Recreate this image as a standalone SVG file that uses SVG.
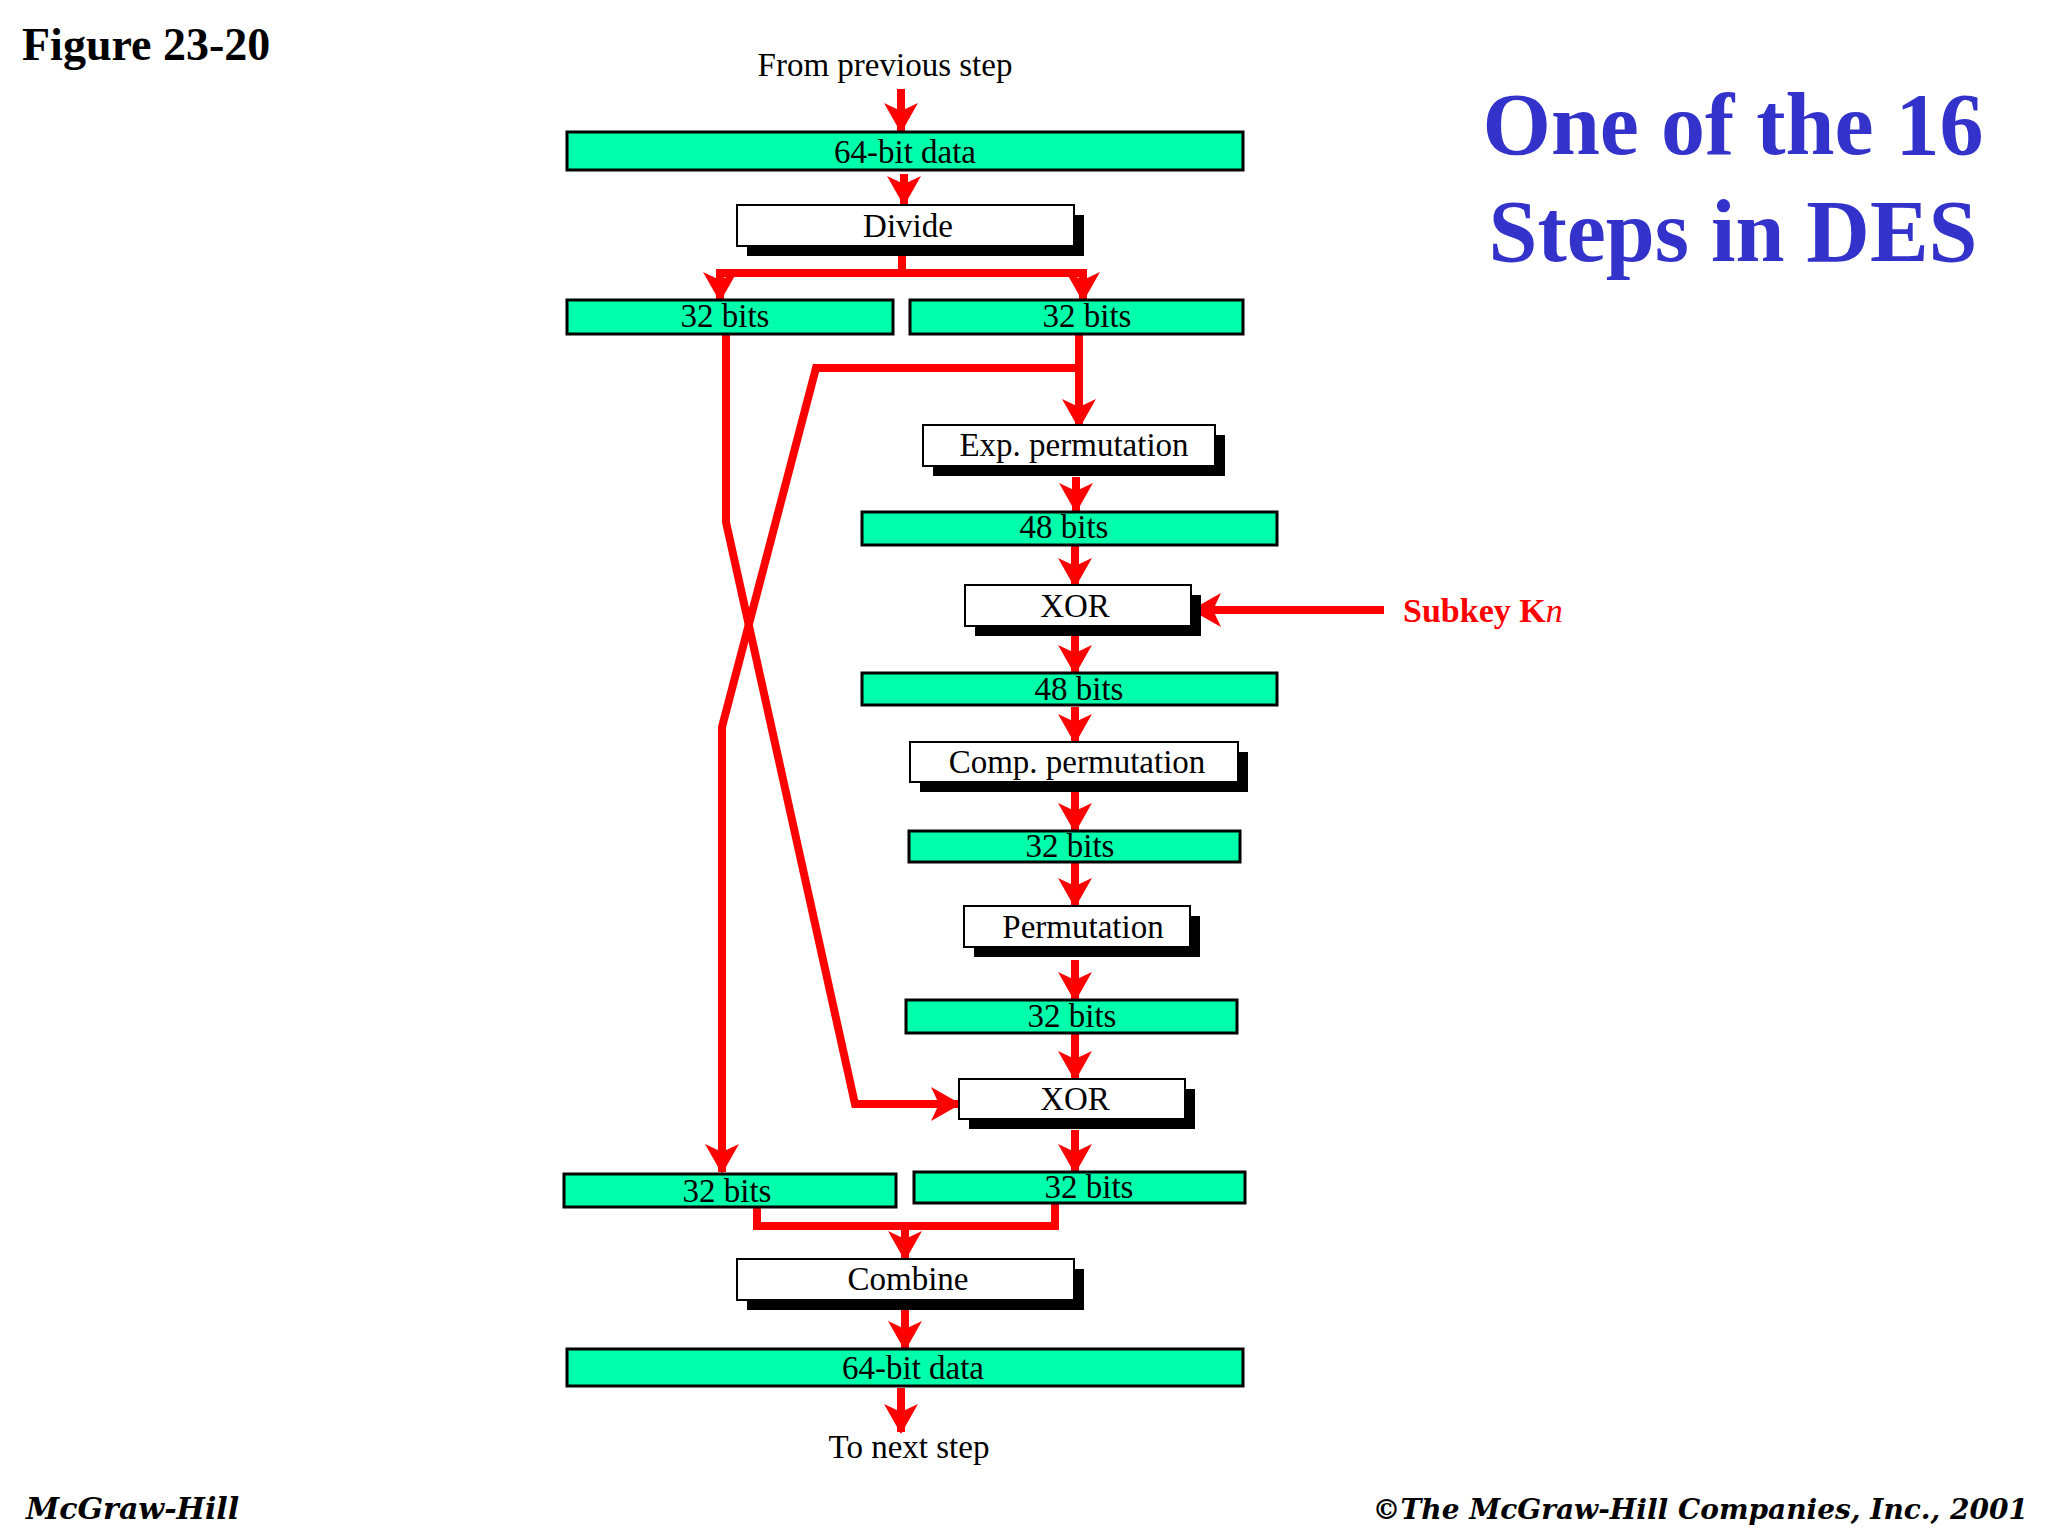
<svg xmlns="http://www.w3.org/2000/svg" width="2048" height="1536" viewBox="0 0 2048 1536">
<defs>
<marker id="ah" markerUnits="userSpaceOnUse" markerWidth="30" markerHeight="34" viewBox="0 0 30 34" refX="28" refY="17" orient="auto">
<path d="M0,0 L30,17 L0,34 L8,17 z" fill="#ff0000"/>
</marker>
<style>
.g{fill:#00ffaa;stroke:#000;stroke-width:3}
.w{fill:#fff;stroke:#000;stroke-width:2}
.s{fill:#000}
.t{font-family:"Liberation Serif",serif;font-size:33px;text-anchor:middle;fill:#000}
.c{fill:none;stroke:#ff0000;stroke-width:8}
.a{fill:none;stroke:#ff0000;stroke-width:8;marker-end:url(#ah)}
</style>
</defs>
<rect width="2048" height="1536" fill="#fff"/>
<text x="22" y="60" font-family="Liberation Serif,serif" font-weight="bold" font-size="46">Figure 23-20</text>
<g font-family="Liberation Serif,serif" font-weight="bold" font-size="88" fill="#3333cc" text-anchor="middle">
<text x="1733" y="154">One of the 16</text>
<text x="1733" y="261">Steps in DES</text>
</g>
<text class="t" x="885" y="76">From previous step</text>
<text class="t" x="909" y="1458">To next step</text>
<g id="connectors">
<path class="a" d="M901,89 V131"/>
<path class="a" d="M904,174 V204"/>
<path class="c" d="M902,254 V273"/>
<path class="c" d="M720,273 H1083"/>
<path class="a" d="M720,269 V300"/>
<path class="a" d="M1083,269 V300"/>
<path class="a" d="M1079,334 V427"/>
<path class="c" d="M1079,368 H816 L722,727 V1140"/>
<path class="a" d="M722,1120 V1172"/>
<path class="a" d="M726,334 V522 L855,1104 H959"/>
<path class="a" d="M1076,477 V511"/>
<path class="a" d="M1075,546 V586"/>
<path class="a" d="M1384,610 H1193"/>
<path class="a" d="M1075,636 V673"/>
<path class="a" d="M1075,707 V742"/>
<path class="a" d="M1075,792 V831"/>
<path class="a" d="M1075,863 V906"/>
<path class="a" d="M1075,960 V1000"/>
<path class="a" d="M1075,1034 V1079"/>
<path class="a" d="M1075,1130 V1172"/>
<path class="c" d="M757,1207 V1226 H1055 V1203"/>
<path class="a" d="M905,1222 V1259"/>
<path class="a" d="M905,1310 V1349"/>
<path class="a" d="M901,1388 V1432"/>
</g>
<g id="data64a"><rect class="g" x="567" y="132" width="676" height="38"/><text class="t" x="905" y="163">64-bit data</text></g>
<g id="divide"><rect class="s" x="747" y="215" width="337" height="41"/><rect class="w" x="737" y="205" width="337" height="41"/><text class="t" x="908" y="237">Divide</text></g>
<g id="l32a"><rect class="g" x="567" y="300" width="326" height="34"/><text class="t" x="725" y="327">32 bits</text></g>
<g id="r32a"><rect class="g" x="910" y="300" width="333" height="34"/><text class="t" x="1087" y="327">32 bits</text></g>
<g id="exp"><rect class="s" x="933" y="435" width="292" height="41"/><rect class="w" x="923" y="425" width="292" height="41"/><text class="t" x="1074" y="456">Exp. permutation</text></g>
<g id="b48a"><rect class="g" x="862" y="512" width="415" height="33"/><text class="t" x="1064" y="538">48 bits</text></g>
<g id="xor1"><rect class="s" x="975" y="595" width="226" height="41"/><rect class="w" x="965" y="585" width="226" height="41"/><text class="t" x="1075" y="617">XOR</text></g>
<text x="1403" y="622" font-family="Liberation Serif,serif" font-weight="bold" font-size="34" fill="#ff0000">Subkey K<tspan font-style="italic" font-weight="normal">n</tspan></text>
<g id="b48b"><rect class="g" x="862" y="673" width="415" height="32"/><text class="t" x="1079" y="700">48 bits</text></g>
<g id="comp"><rect class="s" x="920" y="752" width="328" height="40"/><rect class="w" x="910" y="742" width="328" height="40"/><text class="t" x="1077" y="773">Comp. permutation</text></g>
<g id="b32c"><rect class="g" x="909" y="831" width="331" height="31"/><text class="t" x="1070" y="857">32 bits</text></g>
<g id="perm"><rect class="s" x="974" y="916" width="226" height="41"/><rect class="w" x="964" y="906" width="226" height="41"/><text class="t" x="1083" y="938">Permutation</text></g>
<g id="b32d"><rect class="g" x="906" y="1000" width="331" height="33"/><text class="t" x="1072" y="1027">32 bits</text></g>
<g id="xor2"><rect class="s" x="969" y="1089" width="226" height="40"/><rect class="w" x="959" y="1079" width="226" height="40"/><text class="t" x="1075" y="1110">XOR</text></g>
<g id="r32b"><rect class="g" x="914" y="1172" width="331" height="31"/><text class="t" x="1089" y="1198">32 bits</text></g>
<g id="l32b"><rect class="g" x="564" y="1174" width="332" height="33"/><text class="t" x="727" y="1202">32 bits</text></g>
<g id="combine"><rect class="s" x="747" y="1269" width="337" height="41"/><rect class="w" x="737" y="1259" width="337" height="41"/><text class="t" x="908" y="1290">Combine</text></g>
<g id="data64b"><rect class="g" x="567" y="1349" width="676" height="37"/><text class="t" x="913" y="1379">64-bit data</text></g>
<text x="26" y="1519" font-family="DejaVu Serif,serif" font-style="italic" font-weight="bold" font-size="30">McGraw-Hill</text>
<text x="2028" y="1519" text-anchor="end" font-family="DejaVu Serif,serif" font-style="italic" font-weight="bold" font-size="28">©The McGraw-Hill Companies, Inc., 2001</text>
</svg>
